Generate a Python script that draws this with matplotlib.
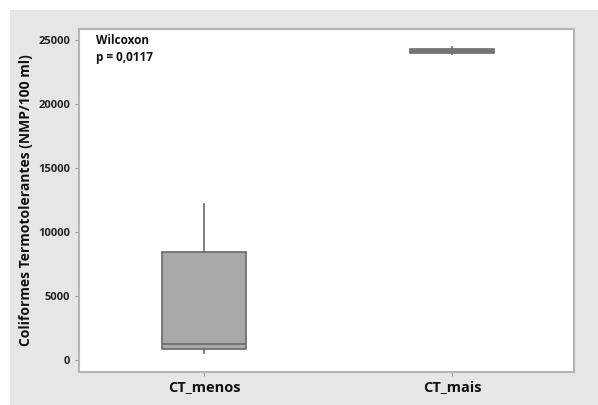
import matplotlib
matplotlib.use("Agg")
import matplotlib.pyplot as plt
from matplotlib.patches import Rectangle

categories = ["CT_menos", "CT_mais"]
whisker_low = [550, 23900]
q1 = [860, 23950]
median = [1250, 24150]
q3 = [8440, 24300]
whisker_high = [12190, 24450]
yticks = [0, 5000, 10000, 15000, 20000, 25000]

stats = []
for i, c in enumerate(categories):
    stats.append(dict(label=c, whislo=whisker_low[i], q1=q1[i], med=median[i],
                      q3=q3[i], whishi=whisker_high[i], fliers=[]))

plt.rcParams['font.family'] = ['Open Sans', 'DejaVu Sans']

fig = plt.figure(figsize=(5.98, 4.05), dpi=100)
fig.patch.set_facecolor('white')
fig.patches.append(Rectangle((10/598, 0), 1, 1 - 10/405, transform=fig.transFigure,
                             facecolor='#e6e6e6', edgecolor='none', zorder=-10))
ax = fig.add_axes([79/598, 1 - 372/405, (574-79)/598, (372-29)/405])
ax.set_zorder(1)
ax.set_facecolor('white')

ec = '#6a6a6a'
ax.bxp(stats, positions=[1, 2], widths=0.335, patch_artist=True, showcaps=False,
       boxprops=dict(facecolor='#a9a9a9', edgecolor=ec, linewidth=1.2),
       medianprops=dict(color=ec, linewidth=1.2),
       whiskerprops=dict(color=ec, linewidth=1.2))

ax.set_xlim(0.496, 2.492)
ax.set_ylim(-940, 25860)
ax.set_yticks(yticks)
ax.set_yticklabels([str(v) for v in yticks], fontsize=8, fontweight='bold', color='#222222')
ax.set_xticks([1, 2])
ax.set_xticklabels(categories, fontsize=10.5, fontweight='bold', color='#111111')
ax.tick_params(axis='both', direction='out', length=3, width=0.8, color='#999999')
ax.tick_params(axis='x', pad=3)
for s in ax.spines.values():
    s.set_color('#b5b5b5')
    s.set_linewidth(1.5)

ax.set_ylabel('Coliformes Termotolerantes (NMP/100 ml)', fontsize=10,
              fontweight='bold', color='#111111')
ax.yaxis.set_label_coords(-0.092, 0.5)

ax.text(0.035, 0.985, 'Wilcoxon\np = 0,0117', transform=ax.transAxes, ha='left', va='top',
        fontsize=8.5, fontweight='bold', color='#111111', linespacing=1.4)

fig.savefig('out.png', dpi=100)
